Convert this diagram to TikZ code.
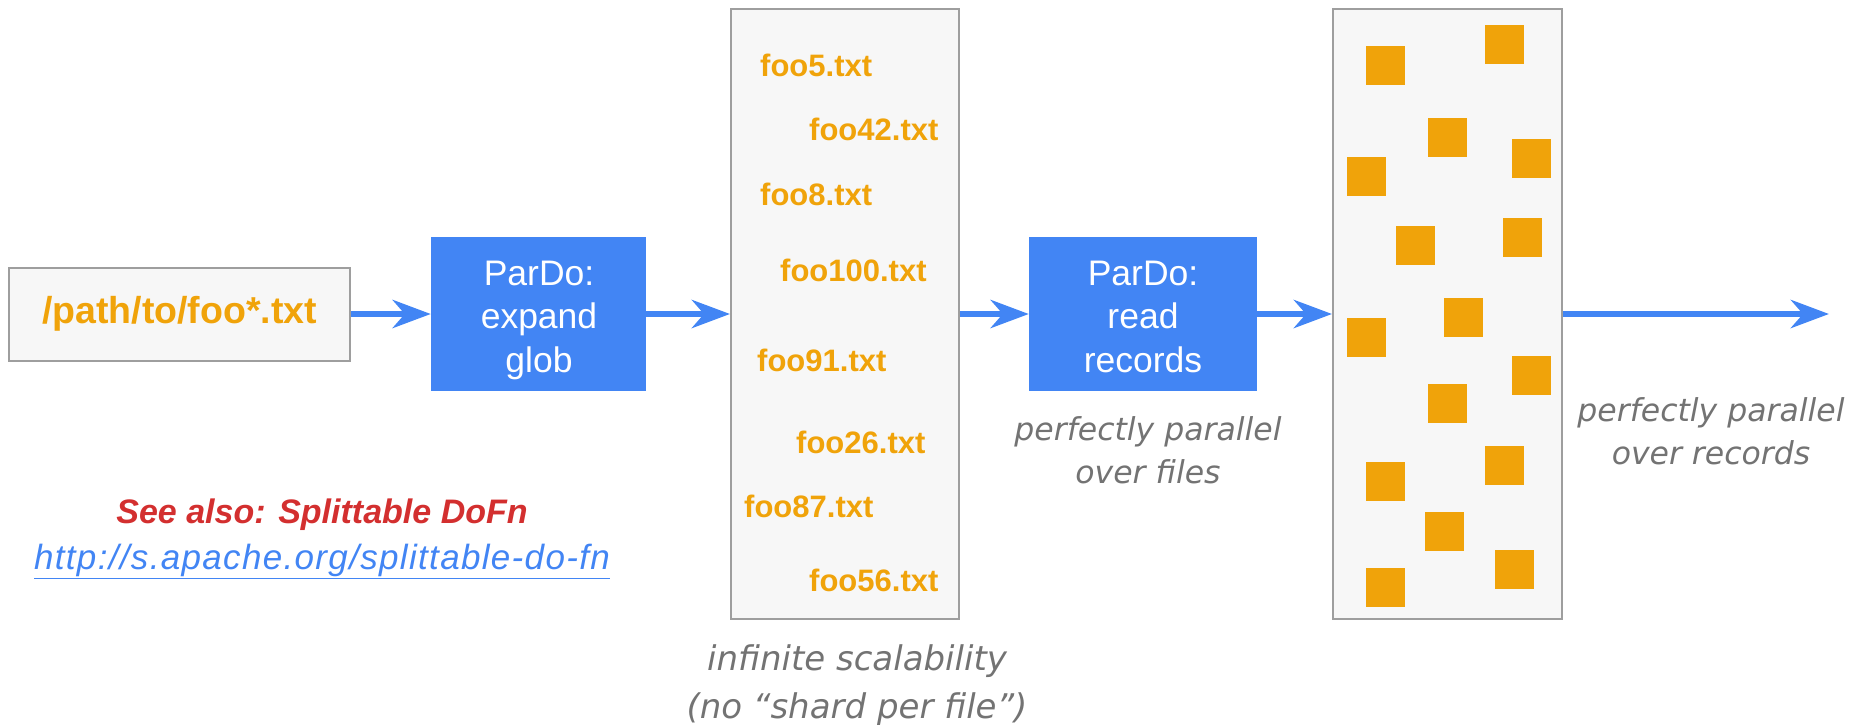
\documentclass[tikz,border=0pt]{standalone}
\usepackage{fontspec}
\setmainfont{Liberation Sans}
\newfontfamily\widefont{DejaVu Sans}
\usetikzlibrary{arrows.meta}
\definecolor{gblue}{HTML}{4285F4}
\definecolor{gorange}{HTML}{F0A30A}
\definecolor{ggray}{HTML}{737373}
\definecolor{gred}{HTML}{D32F2F}
\definecolor{boxfill}{HTML}{F7F7F7}
\definecolor{boxline}{HTML}{9E9E9E}
\newcommand{\lines}[1]{\begin{tabular}[t]{@{}c@{}}#1\end{tabular}}
\tikzset{
  panel/.style={draw=boxline, line width=2pt, fill=boxfill, inner sep=0pt},
  stage/.style={fill=gblue, inner sep=0pt},
  stagetext/.style={text=white, inner sep=0pt, anchor=base,
    font=\fontsize{35.5}{43.5}\selectfont},
  flow/.style={draw=gblue, line width=6.5pt,
    -{Stealth[length=38pt, width=28pt, inset=12pt]}},
  fname/.style={text=gorange, anchor=base west, inner sep=0pt,
    font=\bfseries\fontsize{31}{36}\selectfont},
  rec/.style={fill=gorange, minimum width=39pt, minimum height=39pt, inner sep=0pt},
  note/.style={text=ggray, inner sep=0pt, anchor=base,
    font=\widefont\itshape\fontsize{31.5}{43.5}\selectfont},
}
\begin{document}
\begin{tikzpicture}[x=1pt, y=-1pt]
\useasboundingbox (0,0) rectangle (1849,725);

% input pattern
\node[panel, minimum width=341pt, minimum height=93pt, text=gorange,
  font=\bfseries\fontsize{37.5}{44}\selectfont] (glob) at (179.5,314) {/path/to/foo*.txt};

% first ParDo
\node[stage, minimum width=215pt, minimum height=154pt] (expand) at (538.5,314) {};
\node[stagetext] (expandtxt) at (539,285) {\lines{ParDo:\\expand\\glob}};

% expanded file list
\node[panel, minimum width=228pt, minimum height=610pt] (files) at (845,314) {};
\node[fname] (f5)   at (760,77)  {foo5.txt};
\node[fname] (f42)  at (809,140) {foo42.txt};
\node[fname] (f8)   at (760,205) {foo8.txt};
\node[fname] (f100) at (780,281) {foo100.txt};
\node[fname] (f91)  at (757,371) {foo91.txt};
\node[fname] (f26)  at (796,453) {foo26.txt};
\node[fname] (f87)  at (744,517) {foo87.txt};
\node[fname] (f56)  at (809,591) {foo56.txt};

% second ParDo
\node[stage, minimum width=228pt, minimum height=154pt] (read) at (1143,314) {};
\node[stagetext] (readtxt) at (1143,285) {\lines{ParDo:\\read\\records}};

% records
\node[panel, minimum width=229pt, minimum height=610pt] (records) at (1447.5,314) {};
\foreach \i/\x/\y in {1/1385.5/65.5, 2/1504.5/44.5, 3/1447.5/137.5, 4/1366.5/176.5,
    5/1531.5/158.5, 6/1415.5/245.5, 7/1522.5/237.5, 8/1463.5/317.5,
    9/1366.5/337.5, 10/1531.5/375.5, 11/1447.5/403, 12/1504.5/465.5,
    13/1385.5/481, 14/1444.5/531.5, 15/1514.5/569.5, 16/1385.5/587.5}
  \node[rec] (r\i) at (\x,\y) {};

\coordinate (out) at (1829,314);

% connectors
\draw[flow] (glob.east) -- (glob.east -| expand.west);
\draw[flow] (expand.east) -- (expand.east -| files.west);
\draw[flow] (files.east) -- (files.east -| read.west);
\draw[flow] (read.east) -- (read.east -| records.west);
\draw[flow] (records.east) -- (out);

% captions
\node[note] (capfiles) at (1148,440) {\lines{perfectly parallel\\over files}};
\node[note] (caprecs) at (1711,421) {\lines{perfectly parallel\\over records}};
\node[note, font=\widefont\itshape\fontsize{34}{48}\selectfont] (capscale) at (857,670)
  {\lines{infinite scalability\\(no “shard per file”)}};

\node[text=gred, inner sep=0pt, font=\bfseries\itshape\fontsize{34}{40}\selectfont]
  (seealso) at (322,515) {See also: Splittable DoFn};
\node[text=gblue, inner sep=0pt,
  font=\itshape\fontsize{35}{40}\selectfont\addfontfeature{LetterSpace=3.8}]
  (link) at (322,561) {\underline{http://s.apache.org/splittable-do-fn}};
\end{tikzpicture}
\end{document}
